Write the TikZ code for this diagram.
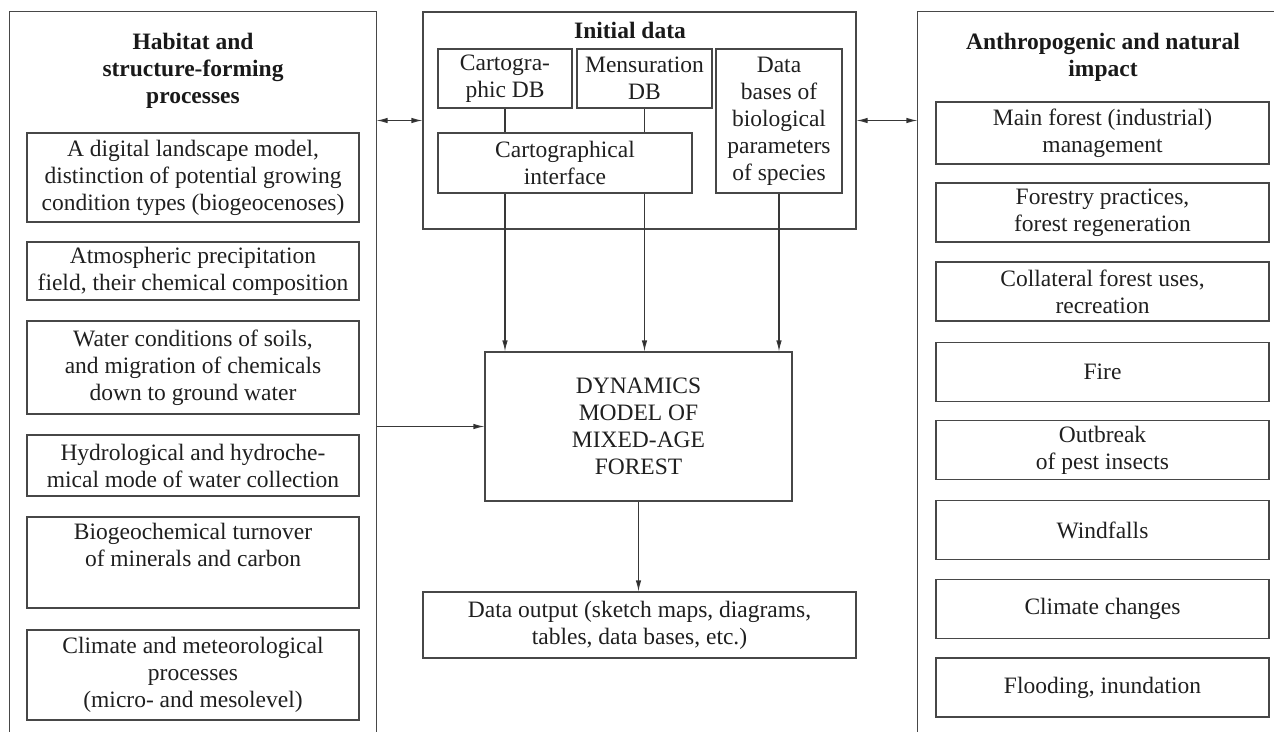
\documentclass[tikz,border=0pt]{standalone}
\usepackage{fontspec}
\setmainfont{Liberation Serif}
\usetikzlibrary{arrows.meta,calc}
\begin{document}
\begin{tikzpicture}[x=1pt,y=-1pt,
  line width=1.1pt,
  frame/.style={draw=black!72, line width=1.1pt},
  box/.style={draw=black!72, line width=1.1pt, inner sep=0pt, align=center,
    font=\fontsize{23.5}{27}\selectfont, text=black!88},
  lbox/.style={box, minimum width=332pt},
  rbox/.style={box, minimum width=333pt, minimum height=59pt},
  ttl/.style={inner sep=0pt, align=center, font=\fontsize{23.5}{27}\selectfont\bfseries, text=black!90},
  panel/.style={inner sep=0pt, minimum height=719pt},
  tip/.tip={Latex[length=11pt,width=5.5pt,fill=black!85]},
  arr/.style={draw=black!78, -tip},
  darr/.style={draw=black!78, tip-tip},
  ln/.style={draw=black!78},
]
\useasboundingbox (0,0) rectangle (1274,731);

% ---------- left panel ----------
\node[panel, minimum width=366pt] (lp) at (193,371.5) {};
\draw[frame] (lp.south west) -- (lp.north west) -- (lp.north east) -- (lp.south east);
\node[ttl] (lt) at (193,71) {Habitat and\\structure-forming\\processes};
\node[lbox, minimum height=89pt] (l1) at (193,177.5) {A digital landscape model,\\distinction of potential growing\\condition types (biogeocenoses)};
\node[lbox, minimum height=58pt] (l2) at (193,271) {Atmospheric precipitation\\field, their chemical composition};
\node[lbox, minimum height=93pt] (l3) at (193,367.5) {Water conditions of soils,\\and migration of chemicals\\down to ground water};
\node[lbox, minimum height=61pt] (l4) at (193,465.5) {Hydrological and hydroche-\\mical mode of water collection};
\node[lbox, minimum height=91pt] (l5) at (193,562.5) {Biogeochemical turnover\\of minerals and carbon\\\strut};
\node[lbox, minimum height=90pt] (l6) at (193,675) {Climate and meteorological\\processes\\(micro- and mesolevel)};

% ---------- right panel ----------
\node[panel, minimum width=356pt] (rp) at (1096,371.5) {};
\draw[frame] (rp.south west) -- (rp.north west) -- (rp.north east);
\node[ttl] (rt) at (1103,57.5) {Anthropogenic and natural\\impact};
\node[rbox, minimum height=62pt] (r1) at (1102.5,133) {Main forest (industrial)\\management};
\node[rbox] (r2) at (1102.5,212.5) {Forestry practices,\\forest regeneration};
\node[rbox] (r3) at (1102.5,291.5) {Collateral forest uses,\\recreation};
\node[rbox] (r4) at (1102.5,372) {Fire};
\node[rbox] (r5) at (1102.5,450) {Outbreak\\of pest insects};
\node[rbox] (r6) at (1102.5,530) {Windfalls};
\node[rbox] (r7) at (1102.5,609) {Climate changes};
\node[rbox] (r8) at (1102.5,687.5) {Flooding, inundation};

% ---------- centre ----------
\node[box, minimum width=433pt, minimum height=217pt] (init) at (639.5,120.5) {};
\node[ttl] (it) at (630,30) {Initial data};
\node[box, minimum width=134pt, minimum height=59pt] (carto) at (505,78.5) {Cartogra-\\phic DB};
\node[box, minimum width=135pt, minimum height=59pt] (mens) at (644.5,78.5) {Mensuration\\DB};
\node[box, minimum width=126pt, minimum height=144pt] (db) at (779,121) {Data\\bases of\\biological\\parameters\\of species};
\node[box, minimum width=254pt, minimum height=60pt] (iface) at (565,163) {Cartographical\\interface};
\node[box, minimum width=307pt, minimum height=149pt] (dyn) at (638.5,426.5) {DYNAMICS\\MODEL OF\\MIXED-AGE\\FOREST};
\node[box, minimum width=433pt, minimum height=66pt] (out) at (639.5,625) {Data output (sketch maps, diagrams,\\tables, data bases, etc.)};

% ---------- connectors ----------
\draw[ln] (carto.south) -- (carto.south |- iface.north);
\draw[ln] (mens.south) -- (mens.south |- iface.north);
\draw[arr] (carto.south |- iface.south) -- (carto.south |- dyn.north);
\draw[arr] (mens.south |- iface.south) -- (mens.south |- dyn.north);
\draw[arr] (db.south) -- (db.south |- dyn.north);
\draw[arr] (lp.east |- dyn.west) -- (dyn.west);
\draw[arr] (dyn.south) -- (dyn.south |- out.north);
\draw[darr] (lp.east |- init.west) -- (init.west);
\draw[darr] (init.east) -- (rp.west |- init.east);
\end{tikzpicture}
\end{document}
